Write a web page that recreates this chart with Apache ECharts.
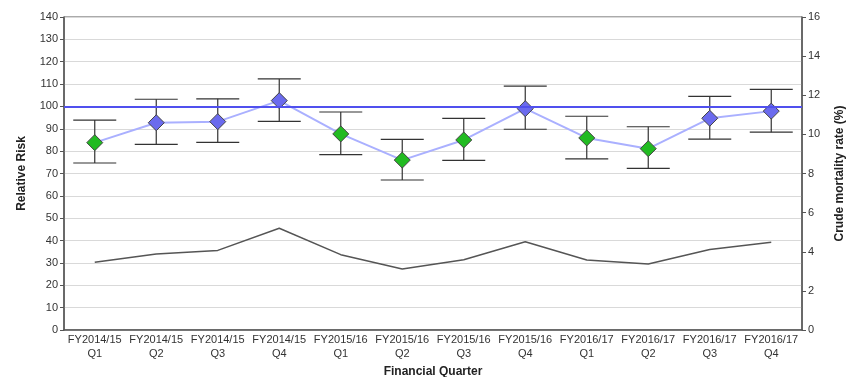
<!DOCTYPE html>
<html><head><meta charset="utf-8">
<script src="https://cdn.jsdelivr.net/npm/echarts@6/dist/echarts.min.js"></script>
<style>html,body{margin:0;padding:0;background:#fff}#c{width:846px;height:377px}</style>
</head><body><div id="c"></div>
<script>
const categories = ['FY2014/15\nQ1','FY2014/15\nQ2','FY2014/15\nQ3','FY2014/15\nQ4','FY2015/16\nQ1','FY2015/16\nQ2','FY2015/16\nQ3','FY2015/16\nQ4','FY2016/17\nQ1','FY2016/17\nQ2','FY2016/17\nQ3','FY2016/17\nQ4'];
const relativeRisk = [83.8, 92.7, 93.2, 102.6, 87.7, 76.0, 85.0, 99.0, 85.9, 81.1, 94.7, 97.9];
const upperCI = [93.9, 103.2, 103.4, 112.3, 97.5, 85.3, 94.7, 109.1, 95.6, 90.9, 104.5, 107.6];
const lowerCI = [74.7, 83.0, 83.9, 93.3, 78.4, 67.1, 75.9, 89.8, 76.5, 72.3, 85.4, 88.5];
const crudeMortality = [3.46, 3.89, 4.07, 5.2, 3.85, 3.12, 3.59, 4.51, 3.58, 3.37, 4.12, 4.48];
const referenceValue = 100;

const chart = echarts.init(document.getElementById('c'), null, {renderer:'canvas'});
const font = 'Liberation Sans, Arial, sans-serif';
const errData = categories.map((c,i)=>[i, lowerCI[i], upperCI[i]]);
chart.setOption({
  animation:false,
  backgroundColor:'#fff',
  grid:{left:64,right:44,top:17,bottom:47,containLabel:false,outerBoundsMode:'none',show:true,borderColor:'#555',borderWidth:1},
  xAxis:{type:'category',data:categories,
    name:'Financial Quarter',nameLocation:'middle',nameGap:34,
    nameTextStyle:{fontFamily:font,fontSize:12,fontWeight:'bold',color:'#222'},
    axisLine:{lineStyle:{color:'#555',width:1.5}},
    axisTick:{alignWithLabel:true,length:4,lineStyle:{color:'#555'}},
    axisLabel:{interval:0,fontFamily:font,fontSize:11,color:'#333',lineHeight:14,margin:3},
    splitLine:{show:false}},
  yAxis:[{type:'value',min:0,max:140,interval:10,
    name:'Relative Risk',nameLocation:'middle',nameGap:36,nameRotate:90,
    nameTextStyle:{fontFamily:font,fontSize:12,fontWeight:'bold',color:'#222'},
    axisLine:{show:true,lineStyle:{color:'#555',width:1.5}},
    axisTick:{show:true,length:4,lineStyle:{color:'#555'}},
    axisLabel:{fontFamily:font,fontSize:11,color:'#333',margin:6},
    splitLine:{lineStyle:{color:'#d9d9d9',width:1}}},
   {type:'value',min:0,max:16,interval:2,position:'right',
    name:'Crude mortality rate (%)',nameLocation:'middle',nameGap:32,nameRotate:90,
    nameTextStyle:{fontFamily:font,fontSize:12,fontWeight:'bold',color:'#222'},
    axisLine:{show:true,lineStyle:{color:'#555',width:1.5}},
    axisTick:{show:true,length:4,lineStyle:{color:'#555'}},
    axisLabel:{fontFamily:font,fontSize:11,color:'#333',margin:6},
    splitLine:{show:false}}],
  series:[
    {type:'line',yAxisIndex:1,data:crudeMortality,symbol:'none',
     lineStyle:{color:'#555',width:1.5},z:2},
    {type:'custom',data:errData,z:3,
     renderItem:function(params,api){
       const x=api.value(0);
       const lo=api.coord([x,api.value(1)]);
       const hi=api.coord([x,api.value(2)]);
       const hw=21.5;
       const st={stroke:'#333',lineWidth:1.2};
       return {type:'group',children:[
         {type:'line',shape:{x1:lo[0],y1:lo[1],x2:hi[0],y2:hi[1]},style:st},
         {type:'line',shape:{x1:lo[0]-hw,y1:lo[1],x2:lo[0]+hw,y2:lo[1]},style:st},
         {type:'line',shape:{x1:hi[0]-hw,y1:hi[1],x2:hi[0]+hw,y2:hi[1]},style:st}
       ]};
     }},
    {type:'line',data:relativeRisk,symbol:'diamond',symbolSize:16,z:4,
     lineStyle:{color:'#aab0ff',width:2},
     itemStyle:{borderColor:'#444',borderWidth:1,
       color:function(p){return upperCI[p.dataIndex]<referenceValue?'#22bb22':'#6b6bee';}},
     markLine:{silent:true,symbol:'none',label:{show:false},
       lineStyle:{color:'#5050ee',width:2,type:'solid'},
       data:[{yAxis:referenceValue}]}}
  ]
});
</script></body></html>
